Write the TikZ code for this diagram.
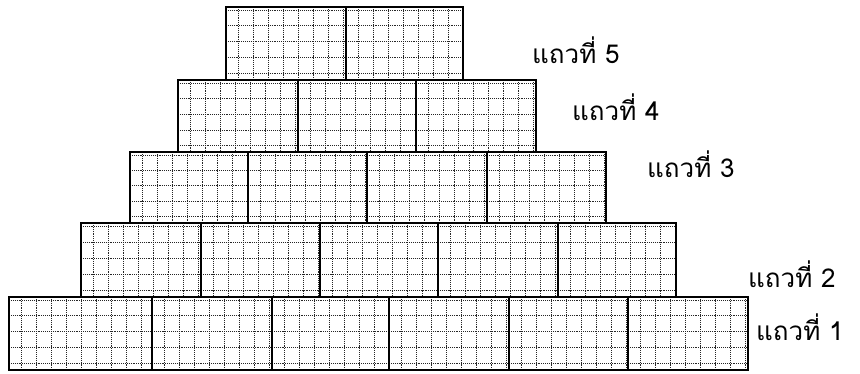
\documentclass[tikz,border=0pt]{standalone}
\usepackage{fontspec}
\newfontfamily\thaifont[Script=Thai]{Loma}
\tikzset{
  griddot/.style={line width=0.9pt, densely dotted, black!85},
  brickedge/.style={line width=1.8pt, black},
  rowlabel/.style={anchor=base west, inner sep=0pt, font=\thaifont\fontsize{26}{30}\selectfont}
}
\newcommand\brick[4]{%
  \begin{scope}
    \clip (#1,#2) rectangle ++(#3,#4);
    \foreach \dx in {12,27,...,147} \draw[griddot] ({#1+\dx},#2) -- ++(0,#4);
    \foreach \k in {0,...,4} \draw[griddot] (#1,{#2+3+\k*#4/4.6}) -- ++(#3,0);
  \end{scope}
  \draw[brickedge] (#1,#2) rectangle ++(#3,#4);}
\begin{document}
\begin{tikzpicture}[x=1pt,y=-1pt]
\useasboundingbox (0,0) rectangle (860,373);
% row 5
\brick{226}{7}{120}{73}
\brick{346}{7}{117}{73}
% row 4
\brick{178}{80}{120}{72}
\brick{298}{80}{118}{72}
\brick{416}{80}{120}{72}
% row 3
\brick{130}{152}{118}{71}
\brick{248}{152}{119}{71}
\brick{367}{152}{120}{71}
\brick{487}{152}{119}{71}
% row 2
\brick{81}{223}{120}{74}
\brick{201}{223}{119}{74}
\brick{320}{223}{118}{74}
\brick{438}{223}{120}{74}
\brick{558}{223}{118}{74}
% row 1
\brick{9}{297}{143}{73}
\brick{152}{297}{120}{73}
\brick{272}{297}{117}{73}
\brick{389}{297}{120}{73}
\brick{509}{297}{119}{73}
\brick{628}{297}{120}{73}
% labels
\node[rowlabel] (l5) at (532,63) {แถวที่ 5};
\node[rowlabel] (l4) at (572,120) {แถวที่ 4};
\node[rowlabel] (l3) at (647,177) {แถวที่ 3};
\node[rowlabel] (l2) at (748,287) {แถวที่ 2};
\node[rowlabel] (l1) at (756,340) {แถวที่ 1};
\end{tikzpicture}
\end{document}
